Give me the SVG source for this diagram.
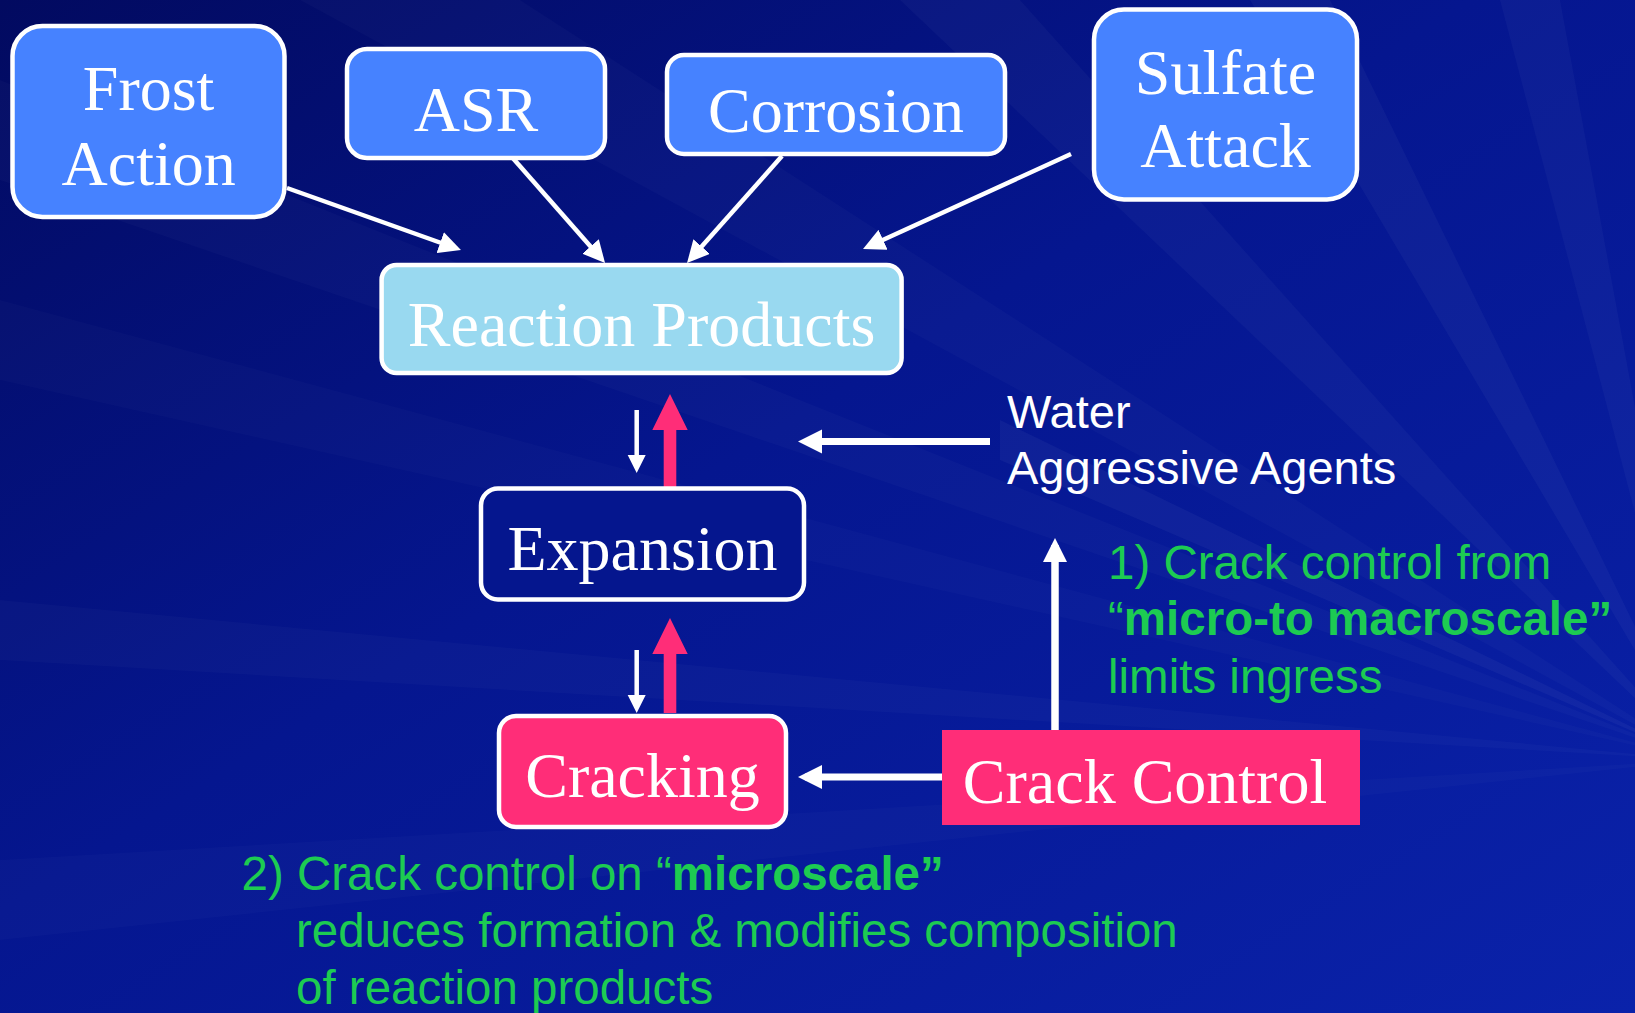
<svg xmlns="http://www.w3.org/2000/svg" width="1635" height="1013" viewBox="0 0 1635 1013">
  <defs>
    <linearGradient id="bg" x1="0" y1="0" x2="1" y2="1">
      <stop offset="0" stop-color="#020A60"/>
      <stop offset="0.45" stop-color="#05168F"/>
      <stop offset="1" stop-color="#0A22AA"/>
    </linearGradient>
    <marker id="headTop" markerUnits="userSpaceOnUse" markerWidth="24" markerHeight="22" refX="16" refY="11" orient="auto">
      <path d="M0,0 L22,11 L0,22 z" fill="#FFFFFF"/>
    </marker>
    <marker id="headSmall" markerUnits="userSpaceOnUse" markerWidth="20" markerHeight="20" refX="13" refY="9" orient="auto">
      <path d="M0,0 L18,9 L0,18 z" fill="#FFFFFF"/>
    </marker>
    <marker id="headBig" markerUnits="userSpaceOnUse" markerWidth="26" markerHeight="26" refX="17" refY="12" orient="auto">
      <path d="M0,0 L24,12 L0,24 z" fill="#FFFFFF"/>
    </marker>
    <style>
      .box { stroke: #FFFFFF; stroke-width: 4.5; }
      .blue { fill: #4682FF; }
      .serif { font-family: "Liberation Serif", "Times New Roman", serif; font-size: 64px; fill: #FFFFFF; text-anchor: middle; }
      .sans { font-family: "Liberation Sans", Arial, sans-serif; font-size: 47px; fill: #FFFFFF; }
      .green { font-family: "Liberation Sans", Arial, sans-serif; font-size: 47.5px; fill: #1DCB52; }
      .bold { font-weight: bold; }
      .wire { stroke: #FFFFFF; fill: none; }
      .pink { fill: #FF2D78; }
      .ray { fill: #FFFFFF; }
    </style>
  </defs>

  <!-- background -->
  <rect x="0" y="0" width="1635" height="1013" fill="url(#bg)"/>
  <g id="rays">
    <polygon class="ray" opacity="0.025" points="1700,760 0,80 0,180"/>
    <polygon class="ray" opacity="0.02" points="1700,760 0,300 0,380"/>
    <polygon class="ray" opacity="0.025" points="1700,760 300,0 520,0"/>
    <polygon class="ray" opacity="0.03" points="1700,760 900,0 1020,0"/>
    <polygon class="ray" opacity="0.035" points="1700,760 1250,0 1330,0"/>
    <polygon class="ray" opacity="0.025" points="1700,760 0,600 0,660"/>
    <polygon class="ray" opacity="0.03" points="1700,760 1500,0 1560,0"/>
    <polygon class="ray" opacity="0.04" points="1700,760 1000,420 1000,460"/>
    <polygon class="ray" opacity="0.02" points="1700,760 0,860 0,940"/>
    <polygon class="ray" opacity="0.04" points="1700,760 1635,380 1635,330"/>
  </g>

  <!-- connectors -->
  <g id="connectors">
    <line class="wire" stroke-width="4.5" x1="287" y1="188" x2="455.3" y2="248" marker-end="url(#headTop)"/>
    <line class="wire" stroke-width="4.5" x1="511" y1="156" x2="601.1" y2="258.5" marker-end="url(#headTop)"/>
    <line class="wire" stroke-width="4.5" x1="782" y1="156" x2="691" y2="258.5" marker-end="url(#headTop)"/>
    <line class="wire" stroke-width="4.5" x1="1071" y1="154" x2="868.5" y2="246.5" marker-end="url(#headTop)"/>

    <line class="wire" stroke-width="4.5" x1="636.7" y1="410" x2="636.7" y2="468" marker-end="url(#headSmall)"/>
    <line class="wire" stroke-width="4.5" x1="636.7" y1="650" x2="636.7" y2="708" marker-end="url(#headSmall)"/>

    <polygon class="pink" points="663.7,488 663.7,430 652.3,430 670,394 687.7,430 676.3,430 676.3,488"/>
    <polygon class="pink" points="663.7,713 663.7,654 652.3,654 670,618 687.7,654 676.3,654 676.3,713"/>

    <line class="wire" stroke-width="7" x1="990" y1="441.5" x2="805" y2="441.5" marker-end="url(#headBig)"/>
    <line class="wire" stroke-width="7" x1="942" y1="777" x2="805" y2="777" marker-end="url(#headBig)"/>
    <line class="wire" stroke-width="7.5" x1="1055" y1="730" x2="1055" y2="545" marker-end="url(#headBig)"/>
  </g>

  <!-- nodes -->
  <g id="frost">
    <rect class="box blue" x="12.5" y="26" width="272" height="191" rx="30"/>
    <text class="serif" x="148.6" y="109.5">Frost</text>
    <text class="serif" x="148.6" y="184.6">Action</text>
  </g>
  <g id="asr">
    <rect class="box blue" x="347" y="49" width="258" height="109" rx="20"/>
    <text class="serif" x="476" y="131">ASR</text>
  </g>
  <g id="corrosion">
    <rect class="box blue" x="667" y="55" width="338" height="99" rx="17"/>
    <text class="serif" x="836" y="132">Corrosion</text>
  </g>
  <g id="sulfate">
    <rect class="box blue" x="1094" y="9.5" width="263" height="190" rx="30"/>
    <text class="serif" x="1225.5" y="94">Sulfate</text>
    <text class="serif" x="1225.5" y="167">Attack</text>
  </g>
  <g id="reaction">
    <rect class="box" fill="#99D9F0" x="381.6" y="265" width="520" height="108" rx="15"/>
    <text class="serif" x="641.6" y="346">Reaction Products</text>
  </g>
  <g id="expansion">
    <rect class="box" fill="#05168E" x="481" y="488.5" width="323" height="111" rx="17"/>
    <text class="serif" x="642.5" y="570">Expansion</text>
  </g>
  <g id="cracking">
    <rect class="box" fill="#FF2D78" x="499" y="716" width="287" height="111" rx="17"/>
    <text class="serif" x="642.5" y="797">Cracking</text>
  </g>
  <g id="crackcontrol">
    <rect fill="#FF2D78" x="942" y="730" width="418" height="95"/>
    <text class="serif" x="1145" y="803">Crack Control</text>
  </g>

  <!-- labels -->
  <g id="water">
    <text class="sans" x="1007" y="428">Water</text>
    <text class="sans" x="1007" y="484">Aggressive Agents</text>
  </g>
  <g id="note1">
    <text class="green" x="1108" y="579">1) Crack control from</text>
    <text class="green" x="1108" y="635">“<tspan class="bold">micro-to macroscale”</tspan></text>
    <text class="green" x="1108" y="693">limits ingress</text>
  </g>
  <g id="note2">
    <text class="green" x="241.5" y="890">2) Crack control on “<tspan class="bold">microscale”</tspan></text>
    <text class="green" x="296" y="947">reduces formation &amp; modifies composition</text>
    <text class="green" x="296" y="1004">of reaction products</text>
  </g>
</svg>
